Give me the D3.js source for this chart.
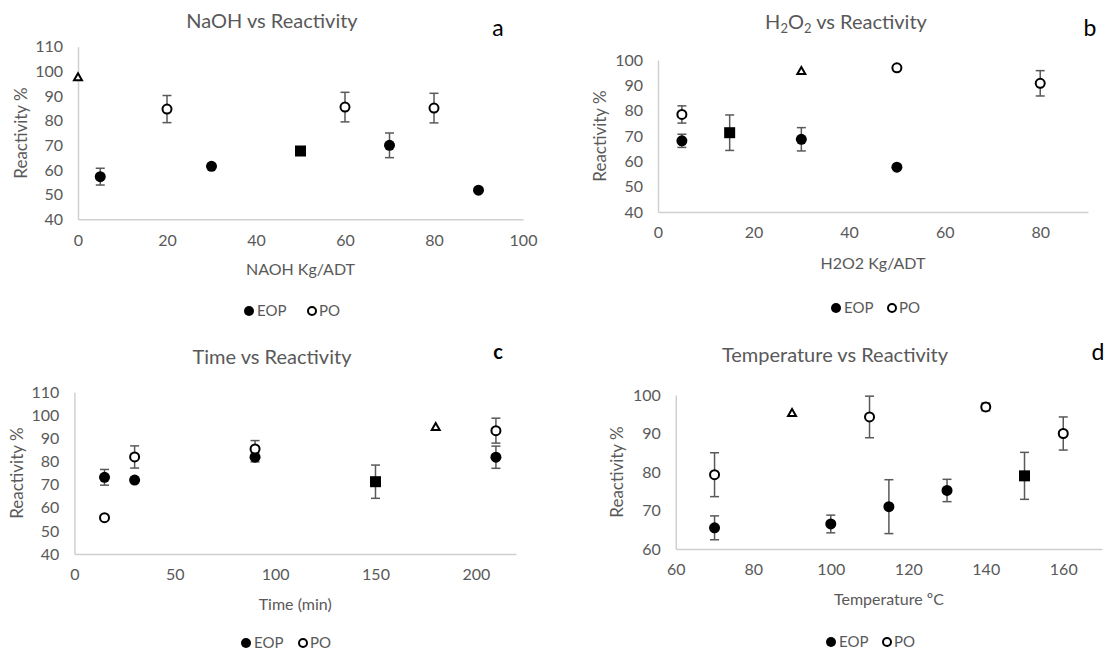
<!DOCTYPE html>
<html lang="en">
<head>
    <meta charset="UTF-8">
    <title>Reactivity</title>
    <script src="https://d3js.org/d3.v7.min.js"></script>
    <style>
        * {
            margin: 0;
            padding: 0;
        }
        body {
            background-color: white;
            font-family: Lato, "Open Sans", sans-serif;
        }
        text {
            fill: #595959;
        }
    </style>
</head>
<body>
<svg id="chart" width="1110" height="655"></svg>
<script>
// [x, reactivity, error]
// panel a : NaOH
const naohEOP = [[5, 57.3, 3.4], [30, 61.5, 0], [70, 70.0, 5.0], [90, 51.8, 0]];
const naohPO = [[20, 84.7, 5.5], [60, 85.5, 6.0], [80, 85.1, 6.0]];
const naohSquare = [[50, 67.7, 0]];
const naohTriangle = [[0, 97.6, 0]];

// panel b : H2O2
const h2o2EOP = [[5, 68.1, 2.6], [30, 68.7, 4.6], [50, 57.7, 0]];
const h2o2PO = [[5, 78.5, 3.4], [50, 96.9, 0], [80, 90.8, 5.0]];
const h2o2Square = [[15, 71.3, 7.0]];
const h2o2Triangle = [[30, 95.7, 0]];

// panel c : time
const timeEOP = [[15, 73.2, 3.4], [30, 72.0, 0], [90, 81.9, 2.0], [210, 81.9, 4.8]];
const timePO = [[15, 55.7, 0], [30, 82.0, 4.8], [90, 85.5, 3.6], [210, 93.4, 5.4]];
const timeSquare = [[150, 71.3, 7.2]];
const timeTriangle = [[180, 95.0, 0]];

// panel d : temperature
const tempEOP = [[70, 65.5, 3.1], [100, 66.5, 2.3], [115, 71.0, 7.0], [130, 75.2, 2.9]];
const tempPO = [[70, 79.3, 5.7], [110, 94.3, 5.4], [140, 96.9, 1.0], [160, 90.0, 4.3]];
const tempSquare = [[150, 79.0, 6.1]];
const tempTriangle = [[90, 95.3, 0]];

const naohXTicks = [0, 20, 40, 60, 80, 100];
const h2o2XTicks = [0, 20, 40, 60, 80];
const timeXTicks = [0, 50, 100, 150, 200];
const tempXTicks = [60, 80, 100, 120, 140, 160];
const reactTicks110 = [40, 50, 60, 70, 80, 90, 100, 110];
const reactTicks100 = [40, 50, 60, 70, 80, 90, 100];
const tempYTicks = [60, 70, 80, 90, 100];

const legendNames = ["EOP", "PO"];

const svg = d3.select("#chart");

const panels = [
    {
        title: "NaOH vs Reactivity", letter: "a", xLabel: "NAOH Kg/ADT",
        xDomain: [0, 100], xRange: [78, 523], xTicks: naohXTicks,
        yDomain: [40, 110], yRange: [219.3, 46.7], yTicks: reactTicks110,
        eop: naohEOP, po: naohPO, square: naohSquare, tri: naohTriangle,
        titleX: 272, titleY: 28, letterX: 498, letterY: 36,
        xLabelY: 275, yLabelX: 21, legendY: 311, legendX: [249, 312]
    },
    {
        title: "H2O2", letter: "b", xLabel: "H2O2 Kg/ADT",
        xDomain: [0, 90], xRange: [658, 1088], xTicks: h2o2XTicks,
        yDomain: [40, 100], yRange: [212, 60], yTicks: reactTicks100,
        eop: h2o2EOP, po: h2o2PO, square: h2o2Square, tri: h2o2Triangle,
        titleX: 846, titleY: 29, letterX: 1090, letterY: 36,
        xLabelY: 269, yLabelX: 600, legendY: 308, legendX: [836, 892]
    },
    {
        title: "Time vs Reactivity", letter: "c", xLabel: "Time (min)",
        xDomain: [0, 220], xRange: [74.4, 516], xTicks: timeXTicks,
        yDomain: [40, 110], yRange: [554, 392.3], yTicks: reactTicks110,
        eop: timeEOP, po: timePO, square: timeSquare, tri: timeTriangle,
        titleX: 272, titleY: 364, letterX: 498, letterY: 359,
        xLabelY: 610, yLabelX: 17, legendY: 643, legendX: [246, 303]
    },
    {
        title: "Temperature vs Reactivity", letter: "d", xLabel: "Temperature ºC",
        xDomain: [60, 170], xRange: [675.8, 1102], xTicks: tempXTicks,
        yDomain: [60, 100], yRange: [549, 395], yTicks: tempYTicks,
        eop: tempEOP, po: tempPO, square: tempSquare, tri: tempTriangle,
        titleX: 835, titleY: 362, letterX: 1098, letterY: 360,
        xLabelY: 605, yLabelX: 617, legendY: 642, legendX: [831, 887]
    }
];

panels.forEach(p => drawPanel(p));

function drawPanel(p) {
    const x = d3.scaleLinear().domain(p.xDomain).range(p.xRange);
    const y = d3.scaleLinear().domain(p.yDomain).range(p.yRange);
    const g = svg.append("g");

    // title
    const t = g.append("text")
        .attr("x", p.titleX).attr("y", p.titleY)
        .attr("text-anchor", "middle")
        .style("font-size", "20px");
    if (p.title === "H2O2") {
        t.append("tspan").text("H");
        t.append("tspan").text("2").attr("dy", 4).style("font-size", "13px");
        t.append("tspan").text("O").attr("dy", -4);
        t.append("tspan").text("2").attr("dy", 4).style("font-size", "13px");
        t.append("tspan").text(" vs Reactivity").attr("dy", -4);
    } else {
        t.text(p.title);
    }

    g.append("text")
        .attr("x", p.letterX).attr("y", p.letterY)
        .attr("text-anchor", "middle")
        .style("font-size", p.letter === "c" ? "20px" : "23px")
        .style("fill", "#000")
        .style("font-weight", p.letter === "c" ? "bold" : "normal")
        .text(p.letter);

    // axes
    const xAxis = d3.axisBottom(x).tickValues(p.xTicks).tickSize(0).tickPadding(15);
    const yAxis = d3.axisLeft(y).tickValues(p.yTicks).tickSize(0).tickPadding(15);

    const gx = g.append("g")
        .attr("transform", `translate(0,${p.yRange[0]})`)
        .call(xAxis);
    const gy = g.append("g")
        .attr("transform", `translate(${p.xRange[0]},0)`)
        .call(yAxis);
    [gx, gy].forEach(a => {
        a.select(".domain").attr("stroke", "#d0d0d0").attr("stroke-width", 1.5);
        a.selectAll("text")
            .style("font-family", "Lato, sans-serif")
            .style("font-size", "16px")
            .attr("fill", "#595959");
    });

    g.append("text")
        .attr("x", (p.xRange[0] + p.xRange[1]) / 2)
        .attr("y", p.xLabelY)
        .attr("text-anchor", "middle")
        .style("font-size", "16px")
        .text(p.xLabel);

    g.append("text")
        .attr("transform", `translate(${p.yLabelX},${(p.yRange[0] + p.yRange[1]) / 2}) rotate(-90)`)
        .attr("text-anchor", "middle")
        .attr("dy", "0.35em")
        .style("font-size", "17px")
        .text("Reactivity %");

    // error bars
    const all = [].concat(p.eop, p.po, p.square, p.tri).filter(d => d[2] > 0);
    const eb = g.append("g").attr("stroke", "#595959").attr("stroke-width", 1.5);
    all.forEach(d => {
        const cx = x(d[0]);
        eb.append("line").attr("x1", cx).attr("x2", cx)
            .attr("y1", y(d[1] - d[2])).attr("y2", y(d[1] + d[2]));
        [d[1] - d[2], d[1] + d[2]].forEach(v => {
            eb.append("line").attr("x1", cx - 4.5).attr("x2", cx + 4.5)
                .attr("y1", y(v)).attr("y2", y(v));
        });
    });

    // markers
    g.selectAll(".eop").data(p.eop).join("circle")
        .attr("cx", d => x(d[0])).attr("cy", d => y(d[1]))
        .attr("r", 5.5).attr("fill", "#000");
    g.selectAll(".po").data(p.po).join("circle")
        .attr("cx", d => x(d[0])).attr("cy", d => y(d[1]))
        .attr("r", 4.5).attr("fill", "#fff")
        .attr("stroke", "#000").attr("stroke-width", 2);
    g.selectAll(".sq").data(p.square).join("rect")
        .attr("x", d => x(d[0]) - 5.5).attr("y", d => y(d[1]) - 5.5)
        .attr("width", 11).attr("height", 11).attr("fill", "#000");
    g.selectAll(".tri").data(p.tri).join("path")
        .attr("d", d => {
            const cx = x(d[0]), cy = y(d[1]);
            return `M${cx},${cy - 4}L${cx + 4},${cy + 3}L${cx - 4},${cy + 3}Z`;
        })
        .attr("fill", "#fff").attr("stroke", "#000").attr("stroke-width", 2);

    // legend
    const lg = g.append("g").attr("transform", `translate(0,${p.legendY})`);
    lg.append("circle").attr("cx", p.legendX[0]).attr("cy", 0).attr("r", 5).attr("fill", "#000");
    lg.append("text").attr("x", p.legendX[0] + 8).attr("y", 0).attr("dy", "0.35em")
        .style("font-size", "15px").text(legendNames[0]);
    lg.append("circle").attr("cx", p.legendX[1]).attr("cy", 0).attr("r", 4)
        .attr("fill", "#fff").attr("stroke", "#000").attr("stroke-width", 2);
    lg.append("text").attr("x", p.legendX[1] + 7).attr("y", 0).attr("dy", "0.35em")
        .style("font-size", "15px").text(legendNames[1]);
}
</script>
</body>
</html>
